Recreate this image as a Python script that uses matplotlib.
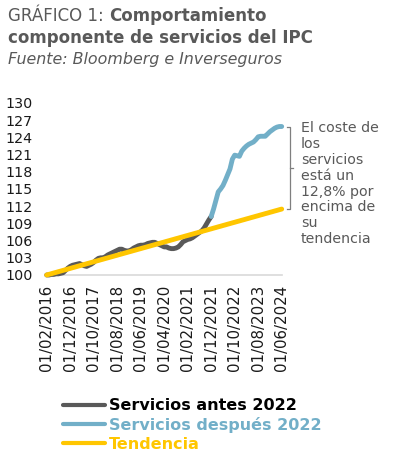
import matplotlib
matplotlib.use("Agg")
import matplotlib.pyplot as plt
import pandas as pd

# ---------------- data ----------------
tick_labels = ["01/02/2016", "01/12/2016", "01/10/2017", "01/08/2018", "01/06/2019",
               "01/04/2020", "01/02/2021", "01/12/2021", "01/10/2022", "01/08/2023",
               "01/06/2024"]

# monthly index 0 = Feb 2016 ... 100 = Jun 2024
servicios_antes = [100.0, 100.0, 100.1, 100.1, 100.2, 100.2, 100.3, 100.4, 100.8, 101.2,
                   101.5, 101.7, 101.8, 101.9, 102.0, 101.8, 101.6, 101.5, 101.7, 101.9,
                   102.2, 102.6, 102.9, 103.0, 103.0, 103.2, 103.5, 103.7, 103.9, 104.1,
                   104.3, 104.5, 104.5, 104.3, 104.2, 104.2, 104.4, 104.7, 104.9, 105.1,
                   105.2, 105.2, 105.3, 105.5, 105.6, 105.7, 105.7, 105.5, 105.3, 105.1,
                   104.9, 104.9, 104.7, 104.6, 104.6, 104.7, 104.9, 105.3, 105.8, 106.0,
                   106.2, 106.3, 106.5, 106.8, 107.1, 107.4, 107.7, 108.2, 108.9, 109.6,
                   110.2]
servicios_despues = [110.2, 111.5, 113.0, 114.5, 115.0, 115.6, 116.5, 117.5, 118.5, 120.2,
                     120.9, 120.8, 120.7, 121.6, 122.1, 122.5, 122.8, 123.0, 123.2, 123.6,
                     124.1, 124.2, 124.2, 124.2, 124.6, 125.0, 125.3, 125.6, 125.8, 125.9,
                     125.9]
tendencia = [100.00, 100.12, 100.23, 100.35, 100.46, 100.58, 100.69, 100.81, 100.92, 101.04,
             101.15, 101.27, 101.38, 101.50, 101.61, 101.73, 101.84, 101.96, 102.07, 102.19,
             102.30, 102.42, 102.53, 102.65, 102.76, 102.88, 102.99, 103.11, 103.22, 103.34,
             103.45, 103.57, 103.68, 103.80, 103.91, 104.03, 104.14, 104.26, 104.37, 104.49,
             104.60, 104.72, 104.83, 104.95, 105.06, 105.18, 105.29, 105.41, 105.52, 105.64,
             105.75, 105.87, 105.98, 106.10, 106.21, 106.33, 106.44, 106.56, 106.67, 106.79,
             106.90, 107.02, 107.13, 107.25, 107.36, 107.48, 107.59, 107.71, 107.82, 107.94,
             108.05, 108.17, 108.28, 108.40, 108.51, 108.63, 108.74, 108.86, 108.97, 109.09,
             109.20, 109.32, 109.43, 109.55, 109.66, 109.78, 109.89, 110.01, 110.12, 110.24,
             110.35, 110.47, 110.58, 110.70, 110.81, 110.93, 111.04, 111.16, 111.27, 111.39,
             111.50]
y_ticks = [100, 103, 106, 109, 112, 115, 118, 121, 124, 127, 130]

dates = pd.date_range("2016-02-01", periods=len(tendencia), freq="MS")
idx_all = list(range(len(dates)))
idx_antes = idx_all[:len(servicios_antes)]
idx_desp = idx_all[len(servicios_antes) - 1:]
tick_pos = [i for i, d in enumerate(dates) if d.strftime("%d/%m/%Y") in tick_labels]

# ---------------- style ----------------
FONT = "DejaVu Sans"
plt.rcParams["font.family"] = [FONT]
GREY = "#595959"
BLUE = "#72AFC8"
YELLOW = "#FFC600"

W, H = 398, 457
fig = plt.figure(figsize=(W / 100, H / 100), dpi=100)
renderer = fig.canvas.get_renderer()

def fx(px):
    return px / W

def fy(py):
    return 1 - py / H

def fit(txt, target_px):
    w = txt.get_window_extent(renderer).width
    txt.set_fontsize(txt.get_fontsize() * target_px / w)
    return txt

ax = fig.add_axes([fx(46.7), fy(275), fx(235), 172 / H])
l1, = ax.plot(idx_antes, servicios_antes, color=GREY, lw=3.5, solid_capstyle="round",
              clip_on=False, zorder=3, label="Servicios antes 2022")
l2, = ax.plot(idx_desp, servicios_despues, color=BLUE, lw=3.5, solid_capstyle="round",
              clip_on=False, zorder=3, label="Servicios después 2022")
l3, = ax.plot(idx_all, tendencia, color=YELLOW, lw=3.5, solid_capstyle="round",
              clip_on=False, zorder=4, label="Tendencia")

ax.set_xlim(0, len(dates) - 1)
ax.set_ylim(100, 130)
ax.set_yticks(y_ticks)
ax.set_yticklabels([str(v) for v in y_ticks], fontsize=10.3, color="#1a1a1a")
ax.set_xticks(tick_pos)
ax.set_xticklabels(tick_labels, rotation=90, fontsize=10.8, color="#1a1a1a")
ax.tick_params(axis="y", length=0, pad=10)
ax.tick_params(axis="x", length=0, pad=7)
for s in ["top", "right", "left"]:
    ax.spines[s].set_visible(False)
ax.spines["bottom"].set_color("#d9d9d9")
ax.spines["bottom"].set_linewidth(1.2)

# bracket annotation
x_end = len(dates) - 1
bx = x_end + 3.5
ax.plot([x_end + 2.2, bx, bx, x_end + 2.2],
        [servicios_despues[-1], servicios_despues[-1], tendencia[-1], tendencia[-1]],
        color="#7f7f7f", lw=0.9, clip_on=False)
ymid = (servicios_despues[-1] + tendencia[-1]) / 2
ax.plot([bx, bx + 1.4], [ymid, ymid], color="#7f7f7f", lw=0.9, clip_on=False)

note_lines = ["El coste de", "los", "servicios", "está un", "12,8% por",
              "encima de", "su", "tendencia"]
fig.text(fx(301), fy(121.5), "\n".join(note_lines), fontsize=10.2, color=GREY,
         va="top", ha="left", linespacing=1.16)

# legend
leg = ax.legend(handles=[l1, l2, l3], loc="upper left", bbox_to_anchor=(fx(63), fy(398.5)),
                bbox_transform=fig.transFigure, frameon=False,
                labelcolor=["#000000", BLUE, YELLOW], handlelength=2.65, handletextpad=0.25,
                labelspacing=0.22, borderaxespad=0, borderpad=0,
                prop={"family": FONT, "weight": "bold", "size": 11.5})
for line in leg.get_lines():
    line.set_linewidth(3.0)
    line.set_solid_capstyle("round")

# titles
t1 = fig.text(fx(8), fy(21), "GRÁFICO 1: ", fontsize=12.5, color=GREY, va="baseline")
t2 = fig.text(fx(8), fy(43), "componente de servicios del IPC", fontsize=12.5, color=GREY,
              fontweight="bold", va="baseline")
fit(t2, 305)
t1.set_fontsize(t2.get_fontsize())
bb = t1.get_window_extent(renderer)
fig.text(bb.x1 / W, fy(21), "Comportamiento", fontsize=t2.get_fontsize(), color=GREY,
         fontweight="bold", va="baseline")
t3 = fig.text(fx(8), fy(64), "Fuente: Bloomberg e Inverseguros", fontsize=10.5, color=GREY,
              style="italic", va="baseline")
fit(t3, 275)

fig.savefig("out.png", dpi=100)
